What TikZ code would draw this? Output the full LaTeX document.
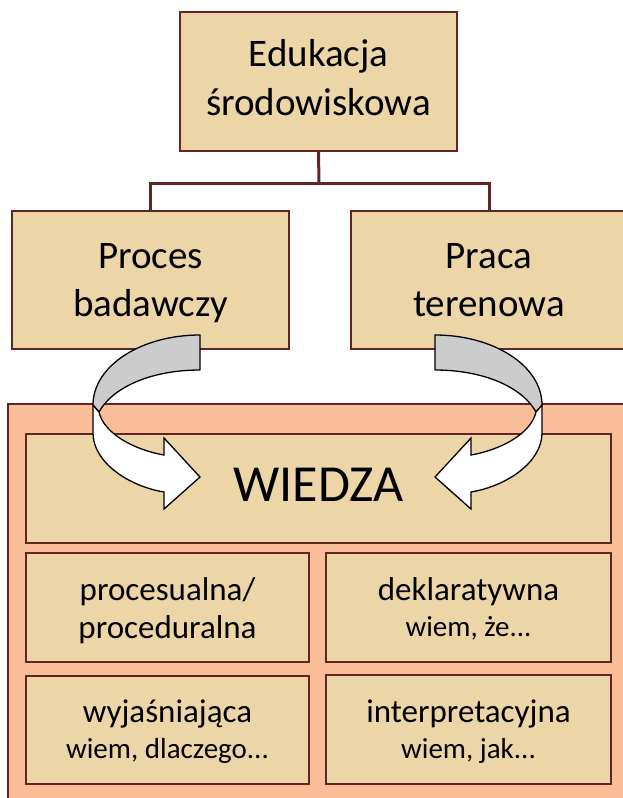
\documentclass[tikz,border=0pt]{standalone}
\usepackage{fontspec}
\setmainfont{Carlito}
\definecolor{tanfill}{RGB}{236,214,168}
\definecolor{salmon}{RGB}{249,189,152}
\definecolor{maroon}{RGB}{99,37,35}
\definecolor{arrgray}{RGB}{204,204,204}
\tikzset{
  box/.style={draw=maroon, line width=2pt, fill=tanfill, inner sep=0pt, rectangle},
  txt/.style={anchor=base, inner sep=0pt},
  bigfont/.style={txt, font=\fontsize{39}{48}\selectfont},
  midfont/.style={txt, font=\fontsize{33}{40}\selectfont},
  subfont/.style={txt, font=\fontsize{29}{36}\selectfont},
  conn/.style={draw=maroon, line width=3pt},
  curvarrow/.pic={
    \filldraw[fill=arrgray, draw=black, line width=1.3pt, line join=round]
      (200,335) .. controls (141,335) and (93,366) .. (93,405)
      -- (99,412) .. controls (112,388) and (150,370) .. (200,370) -- cycle;
    \filldraw[fill=white, draw=black, line width=1.3pt, line join=miter]
      (93,405) -- (93,433) .. controls (93,462) and (128,486) .. (164,492)
      -- (164,509) -- (200,477) -- (164,438) -- (164,455)
      .. controls (135,450) and (104,434) .. (99,412) -- cycle;
  }
}
\begin{document}
\begin{tikzpicture}[x=1pt,y=-1pt]
\useasboundingbox (0,0) rectangle (622,798);
% big salmon area
\filldraw[fill=salmon, draw=maroon, line width=1.5pt] (8,404) rectangle (640,820);
% top level boxes
\node[box, minimum width=277, minimum height=139] (top) at (318.5,81.5) {};
\node[box, minimum width=277, minimum height=138] (pb) at (150.5,280) {};
\node[box, minimum width=277, minimum height=138] (pr) at (489,280) {};
\node[bigfont] (top1) at (318.5,66.7) {Edukacja};
\node[bigfont] (top2) at (318.5,115) {środowiskowa};
\node[bigfont] (pb1) at (150.5,268) {Proces};
\node[bigfont] (pb2) at (150.5,316.5) {badawczy};
\node[bigfont] (pr1) at (489,268) {Praca};
\node[bigfont] (pr2) at (489,316.5) {terenowa};
\coordinate (j) at (319,183);
\draw[conn] (top.south) -- (j);
\draw[conn] (pb.north) |- (j) -| (pr.north);
% WIEDZA
\node[box, minimum width=585, minimum height=109] (w) at (318.5,488.5) {};
\node[txt, font=\fontsize{52}{60}\selectfont] (wt) at (318.5,501.5) {WIEDZA};
% four boxes
\node[box, minimum width=283, minimum height=109] (b1) at (167.5,607.5) {};
\node[box, minimum width=285, minimum height=109] (b2) at (468.5,607.5) {};
\node[box, minimum width=283, minimum height=108] (b3) at (167.5,730) {};
\node[box, minimum width=285, minimum height=109] (b4) at (468.5,729.5) {};
\node[midfont] (b1a) at (167.5,600) {procesualna/};
\node[midfont] (b1b) at (167.5,638) {proceduralna};
\node[midfont] (b2a) at (468.5,600) {deklaratywna};
\node[subfont] (b2b) at (468.5,636) {wiem, że...};
\node[midfont] (b3a) at (167.5,722) {wyjaśniająca};
\node[subfont] (b3b) at (167.5,758) {wiem, dlaczego...};
\node[midfont] (b4a) at (468.5,722) {interpretacyjna};
\node[subfont] (b4b) at (468.5,758) {wiem, jak...};
% arrows
\pic at (0,0) {curvarrow};
\pic[xscale=-1] at (635,0) {curvarrow};
\end{tikzpicture}
\end{document}
